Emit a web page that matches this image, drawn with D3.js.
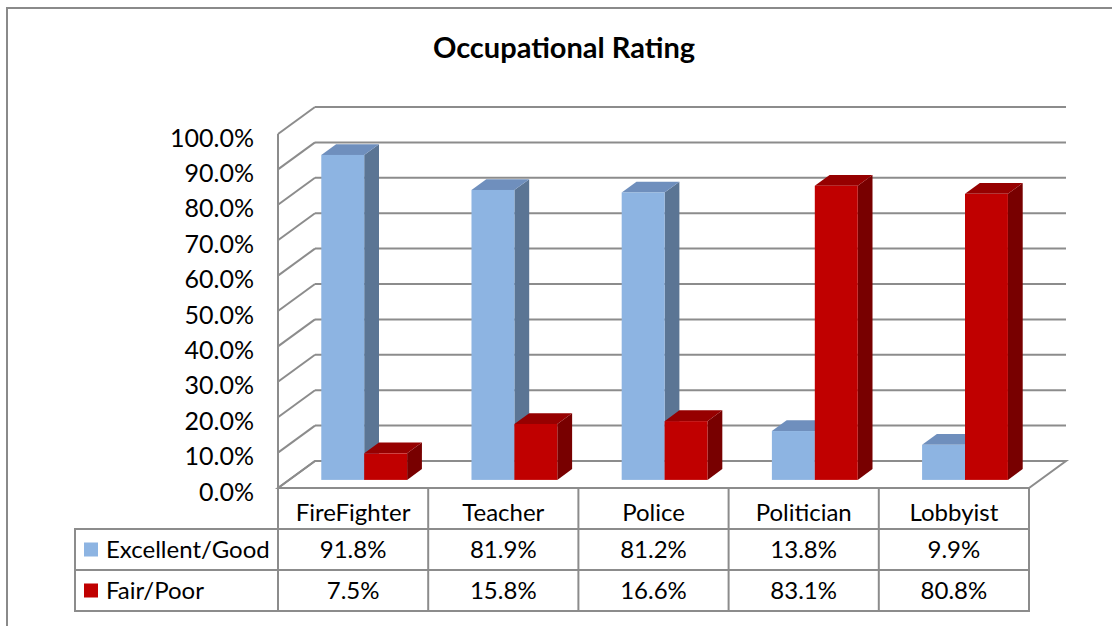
<!DOCTYPE html>
<html>
<head>
<meta charset="utf-8">
<script src="https://cdnjs.cloudflare.com/ajax/libs/d3/7.8.5/d3.min.js"></script>
<style>
body{margin:0;background:#fff;}
svg text{font-family:Lato,"Open Sans",sans-serif;fill:#000;}
</style>
</head>
<body>
<svg id="chart" width="1112" height="626"></svg>
<script>
var categories = ["FireFighter","Teacher","Police","Politician","Lobbyist"];
var seriesNames = ["Excellent/Good","Fair/Poor"];
var excellentGood = [0.918,0.819,0.812,0.138,0.099];
var fairPoor = [0.075,0.158,0.166,0.831,0.808];
var yTicks = [0,0.1,0.2,0.3,0.4,0.5,0.6,0.7,0.8,0.9,1.0];
var frontCol = ["#8db4e2","#c00000"];
var topCol = ["#6f8fbd","#960000"];
var sideCol = ["#5b7594","#780000"];
var seriesVals = [excellentGood, fairPoor];
var fmt = d3.format(".1%");

var svg = d3.select("#chart");
var grid = "#8c8c8c";
// depth of the floor (oblique)
var DX = 37, DY = -27;
var left = 278, right = 1029, y0 = 488, y1 = 134;
var x = d3.scaleBand().domain(categories).range([left, right]);
var y = d3.scaleLinear().domain([0,1]).range([y0, y1]);

// outer frame
svg.append("path").attr("d","M7,626V8H1112").attr("fill","none").attr("stroke","#8a8a8a").attr("stroke-width",2);

svg.append("text").attr("x",564).attr("y",58).attr("text-anchor","middle")
 .style("font-size","29px").style("font-weight","bold").text("Occupational Rating");

// back wall and side wall gridlines
var g = svg.append("g").attr("stroke",grid).attr("stroke-width",2).attr("fill","none");
yTicks.forEach(function(t){
 if(t>0) g.append("line").attr("x1",left+DX).attr("x2",right+DX).attr("y1",y(t)+DY).attr("y2",y(t)+DY);
 g.append("line").attr("x1",left).attr("x2",left+DX).attr("y1",y(t)).attr("y2",y(t)+DY);
});
g.append("line").attr("x1",left).attr("x2",left).attr("y1",y(1)).attr("y2",y(0));
// floor
g.append("path").attr("d","M"+left+","+y0+"L"+(left+DX)+","+(y0+DY)+"L"+(right+DX)+","+(y0+DY)+"L"+right+","+y0+"Z");

// y axis labels
var ax = svg.append("g").attr("transform","translate(254,3)").call(d3.axisLeft(y).tickValues(yTicks).tickFormat(fmt).tickSize(0).tickPadding(0));
ax.select(".domain").remove();
ax.selectAll("text").style("font-size","25px").attr("dy","0.36em");

// bars
var t0 = 0.3, t1 = 0.7;
var bw = x.bandwidth()/3.5;
categories.forEach(function(c,i){
 seriesVals.forEach(function(vals,s){
  var xa = x(c) + x.bandwidth()/2 - bw + s*bw + DX*t0;
  var xb = xa + bw;
  var yb = y(0) + DY*t0, yt = y(vals[i]) + DY*t0;
  var ddx = DX*(t1-t0), ddy = DY*(t1-t0);
  var bar = svg.append("g");
  bar.append("path").attr("fill",sideCol[s])
   .attr("d","M"+xb+","+yt+"L"+(xb+ddx)+","+(yt+ddy)+"L"+(xb+ddx)+","+(yb+ddy)+"L"+xb+","+yb+"Z");
  bar.append("path").attr("fill",topCol[s])
   .attr("d","M"+xa+","+yt+"L"+(xa+ddx)+","+(yt+ddy)+"L"+(xb+ddx)+","+(yt+ddy)+"L"+xb+","+yt+"Z");
  bar.append("rect").attr("x",xa).attr("y",yt).attr("width",bw).attr("height",yb-yt).attr("fill",frontCol[s]);
 });
});

// data table
var rowH = 41, tTop = y0, legL = 75;
var tb = svg.append("g").attr("stroke",grid).attr("stroke-width",2).attr("fill","none");
tb.append("rect").attr("x",left).attr("y",tTop).attr("width",right-left).attr("height",rowH*3);
tb.append("rect").attr("x",legL).attr("y",tTop+rowH).attr("width",right-legL).attr("height",rowH*2);
tb.append("line").attr("x1",legL).attr("x2",right).attr("y1",tTop+rowH*2).attr("y2",tTop+rowH*2);
categories.forEach(function(c){
 tb.append("line").attr("x1",x(c)).attr("x2",x(c)).attr("y1",tTop).attr("y2",tTop+rowH*3);
});
categories.forEach(function(c,i){
 svg.append("text").attr("x",x(c)+x.bandwidth()/2).attr("y",tTop+rowH/2+4).attr("dy","0.36em")
  .attr("text-anchor","middle").style("font-size","24px").text(c);
 seriesVals.forEach(function(vals,s){
  svg.append("text").attr("x",x(c)+x.bandwidth()/2).attr("y",tTop+rowH*(s+1.5)).attr("dy","0.36em")
   .attr("text-anchor","middle").style("font-size","24px").text(fmt(vals[i]));
 });
});
seriesNames.forEach(function(n,s){
 var cy = tTop+rowH*(s+1.5);
 svg.append("rect").attr("x",84).attr("y",cy-7).attr("width",14).attr("height",14).attr("fill",frontCol[s]);
 svg.append("text").attr("x",106).attr("y",cy).attr("dy","0.36em").style("font-size","24px").text(n);
});
</script>
</body>
</html>
